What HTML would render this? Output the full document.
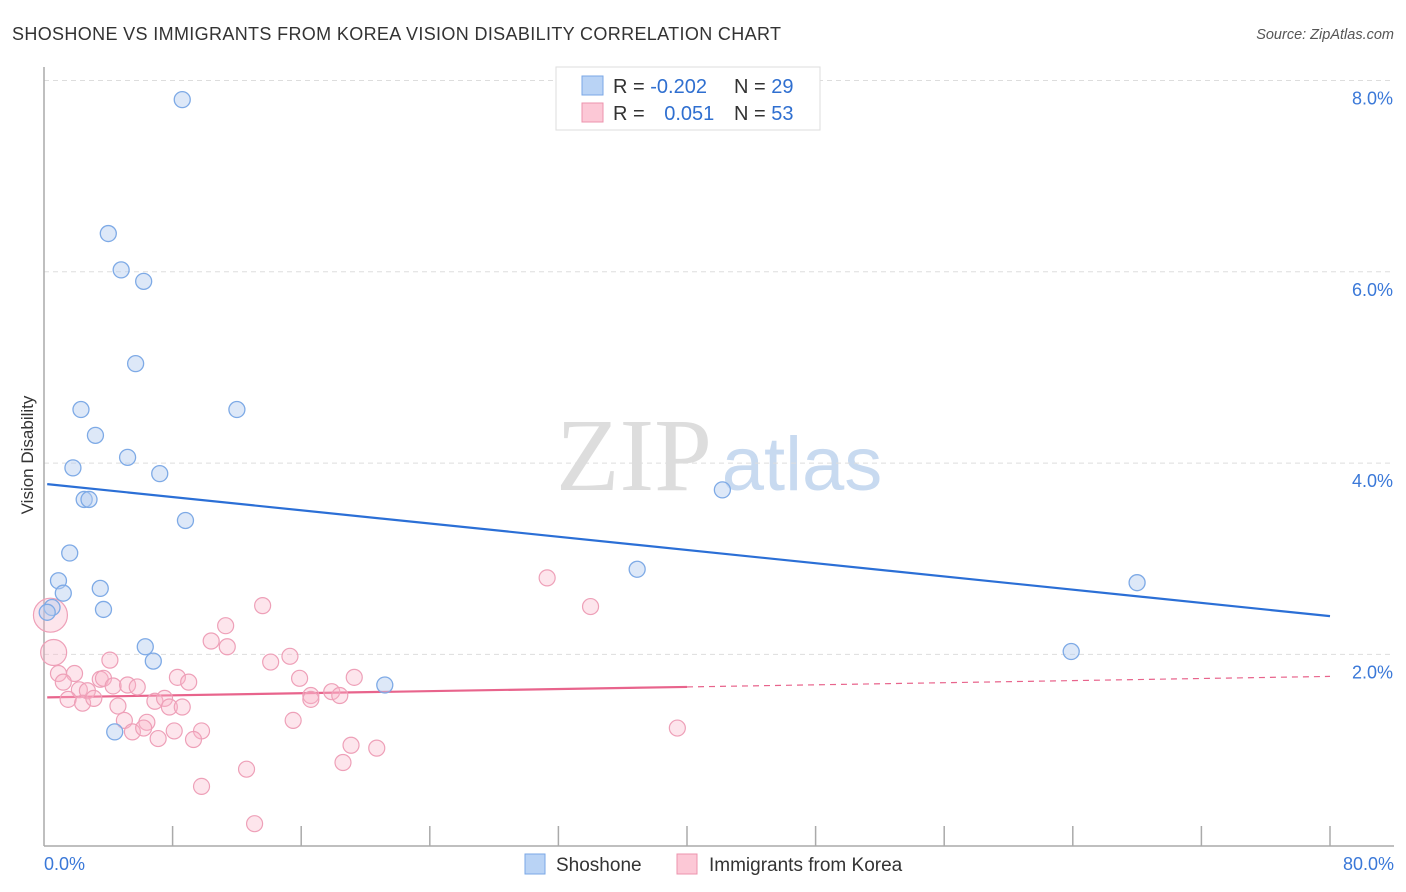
<!DOCTYPE html>
<html><head><meta charset="utf-8"><style>
body{margin:0;background:#fff;font-family:"Liberation Sans",sans-serif;}
svg{display:block}
</style></head><body>
<svg id="chart" width="1406" height="892">
<text x="12" y="40" font-size="18" fill="#333" textLength="769">SHOSHONE VS IMMIGRANTS FROM KOREA VISION DISABILITY CORRELATION CHART</text>
<text x="1394" y="39" font-size="14.5" fill="#555" font-style="italic" text-anchor="end">Source: ZipAtlas.com</text>
<text transform="translate(33,455) rotate(-90)" font-size="17" fill="#333" text-anchor="middle">Vision Disability</text>
<g id="watermark">
<text x="634" y="490" font-size="104" fill="#ddd" font-family="Liberation Serif,serif" text-anchor="middle">ZIP</text>
<text x="802" y="490" font-size="76" fill="#c8daf0" text-anchor="middle">atlas</text>
</g>
<g id="grid"></g><g id="axes"></g><g id="lines"></g><g id="points"></g>
<g>
<rect x="556" y="67" width="264" height="63" fill="#fff" stroke="#ddd"/>
<rect x="582" y="76" width="21" height="19" fill="#b9d3f5" stroke="#7aa7e6"/>
<rect x="582" y="103" width="21" height="19" fill="#fcc8d6" stroke="#ec93ad"/>
<text x="613" y="93" font-size="20" fill="#333">R = <tspan fill="#2f6fd0">-0.202</tspan></text>
<text x="734" y="93" font-size="20" fill="#333">N = <tspan fill="#2f6fd0">29</tspan></text>
<text x="613" y="120" font-size="20" fill="#333">R = <tspan fill="#2f6fd0" dx="14">0.051</tspan></text>
<text x="734" y="120" font-size="20" fill="#333">N = <tspan fill="#2f6fd0">53</tspan></text>
</g>
<g>
<rect x="525" y="854" width="20" height="20" fill="#b9d3f5" stroke="#7aa7e6"/>
<text x="556" y="871" font-size="19" fill="#333">Shoshone</text>
<rect x="677" y="854" width="20" height="20" fill="#fcc8d6" stroke="#ec93ad"/>
<text x="709" y="871" font-size="19" fill="#333">Immigrants from Korea</text>
</g>
</svg>
<script>
const xTicks=[0,8,16,24,32,40,48,56,64,72,80];
const yTicks=[2,4,6,8];
const blueX=[8.6,4.0,4.8,6.2,5.7,2.3,12.0,3.2,1.8,5.2,7.2,2.5,2.8,8.8,1.6,0.9,1.2,3.5,3.7,0.5,0.2,6.3,6.8,21.2,4.4,42.2,36.9,68.0,63.9];
const blueY=[7.8,6.4,6.02,5.9,5.04,4.56,4.56,4.29,3.95,4.06,3.89,3.62,3.62,3.4,3.06,2.77,2.64,2.69,2.47,2.49,2.44,2.08,1.93,1.68,1.19,3.72,2.89,2.75,2.03];
const pinkX=[13.6,10.4,11.3,11.4,14.1,15.3,15.9,16.6,16.6,17.9,18.4,19.3,15.5,19.1,18.6,20.7,12.6,9.8,13.1,4.1,0.6,0.4,0.9,1.9,1.2,2.2,2.7,1.5,2.4,3.1,3.5,3.7,4.3,5.2,5.8,4.6,5.0,5.5,6.4,6.2,7.1,6.9,7.5,7.8,8.3,9.0,8.6,8.1,9.8,9.3,31.3,34.0,39.4];
const pinkY=[2.51,2.14,2.30,2.08,1.92,1.98,1.75,1.57,1.53,1.61,1.57,1.76,1.31,1.05,0.87,1.02,0.80,0.62,0.23,1.94,2.02,2.41,1.80,1.80,1.71,1.63,1.62,1.53,1.49,1.54,1.74,1.75,1.67,1.68,1.66,1.46,1.31,1.19,1.29,1.23,1.12,1.51,1.54,1.45,1.76,1.71,1.45,1.20,1.20,1.11,2.80,2.50,1.23];
const pinkR=[8,8,8,8,8,8,8,8,8,8,8,8,8,8,8,8,8,8,8,8,13,17,8,8,8,8,8,8,8,8,8,8,8,8,8,8,8,8,8,8,8,8,8,8,8,8,8,8,8,8,8,8,8];
const blueTrend=[3.78,2.40];
const pinkTrend=[1.55,1.77];
const pinkSolidEnd=40;
const X0=44,X1=1330,Y0=845.7,YS=95.65;
const sx=v=>X0+(v/80)*(X1-X0);
const sy=v=>Y0-v*YS;
const NS='http://www.w3.org/2000/svg';
function mk(tag,attrs,parent){const e=document.createElementNS(NS,tag);for(const k in attrs)e.setAttribute(k,attrs[k]);document.getElementById(parent).appendChild(e);return e;}
yTicks.forEach(t=>{
 const l=mk('line',{x1:X0,x2:1394,y1:sy(t),y2:sy(t),stroke:'#ddd','stroke-dasharray':'5,4'},'grid');
 
 
 const tx=mk('text',{x:1393,y:sy(t)+24,'font-size':18,fill:'#3a78d8','text-anchor':'end'},'grid');
 tx.textContent=t.toFixed(1)+'%';
 
 
});
const ya=mk('line',{x1:X0,x2:X0,y1:67,y2:846,stroke:'#aaa','stroke-width':1.5},'axes');


const xa=mk('line',{x1:X0,x2:1394,y1:846,y2:846,stroke:'#aaa','stroke-width':1.5},'axes');


xTicks.forEach((t,i)=>{
 if(i===0)return;
 const l=mk('line',{x1:sx(t),x2:sx(t),y1:826,y2:846,stroke:'#aaa','stroke-width':1.5},'axes');
 
 
});
[[0,'start',X0],[80,'end',1394]].forEach(([v,a,x])=>{
 const tx=mk('text',{x:x,y:870,'font-size':18,fill:'#3a78d8','text-anchor':a},'axes');
 tx.textContent=v.toFixed(1)+'%';
 
 
});
const bl=mk('line',{x1:sx(0.2),y1:sy(blueTrend[0]),x2:sx(80),y2:sy(blueTrend[1]),stroke:'#2b6fd6','stroke-width':2.2},'lines');


const pAt=x=>pinkTrend[0]+(pinkTrend[1]-pinkTrend[0])*x/80;
const pl=mk('line',{x1:sx(0.2),y1:sy(pAt(0.2)),x2:sx(pinkSolidEnd),y2:sy(pAt(pinkSolidEnd)),stroke:'#e8648c','stroke-width':2.2},'lines');


const pd=mk('line',{x1:sx(pinkSolidEnd),y1:sy(pAt(pinkSolidEnd)),x2:sx(80),y2:sy(pAt(80)),stroke:'#e8648c','stroke-width':1.2,'stroke-dasharray':'6,5'},'lines');


pinkX.forEach((x,i)=>{
 const c=mk('circle',{cx:sx(x),cy:sy(pinkY[i]),r:pinkR[i],fill:'rgba(248,180,200,0.35)',stroke:'#eea0b8','stroke-width':1.2},'points');
 
 
});
blueX.forEach((x,i)=>{
 const c=mk('circle',{cx:sx(x),cy:sy(blueY[i]),r:8,fill:'rgba(180,205,240,0.45)',stroke:'#7eaae6','stroke-width':1.3},'points');
 
 
});
</script>
</body></html>
